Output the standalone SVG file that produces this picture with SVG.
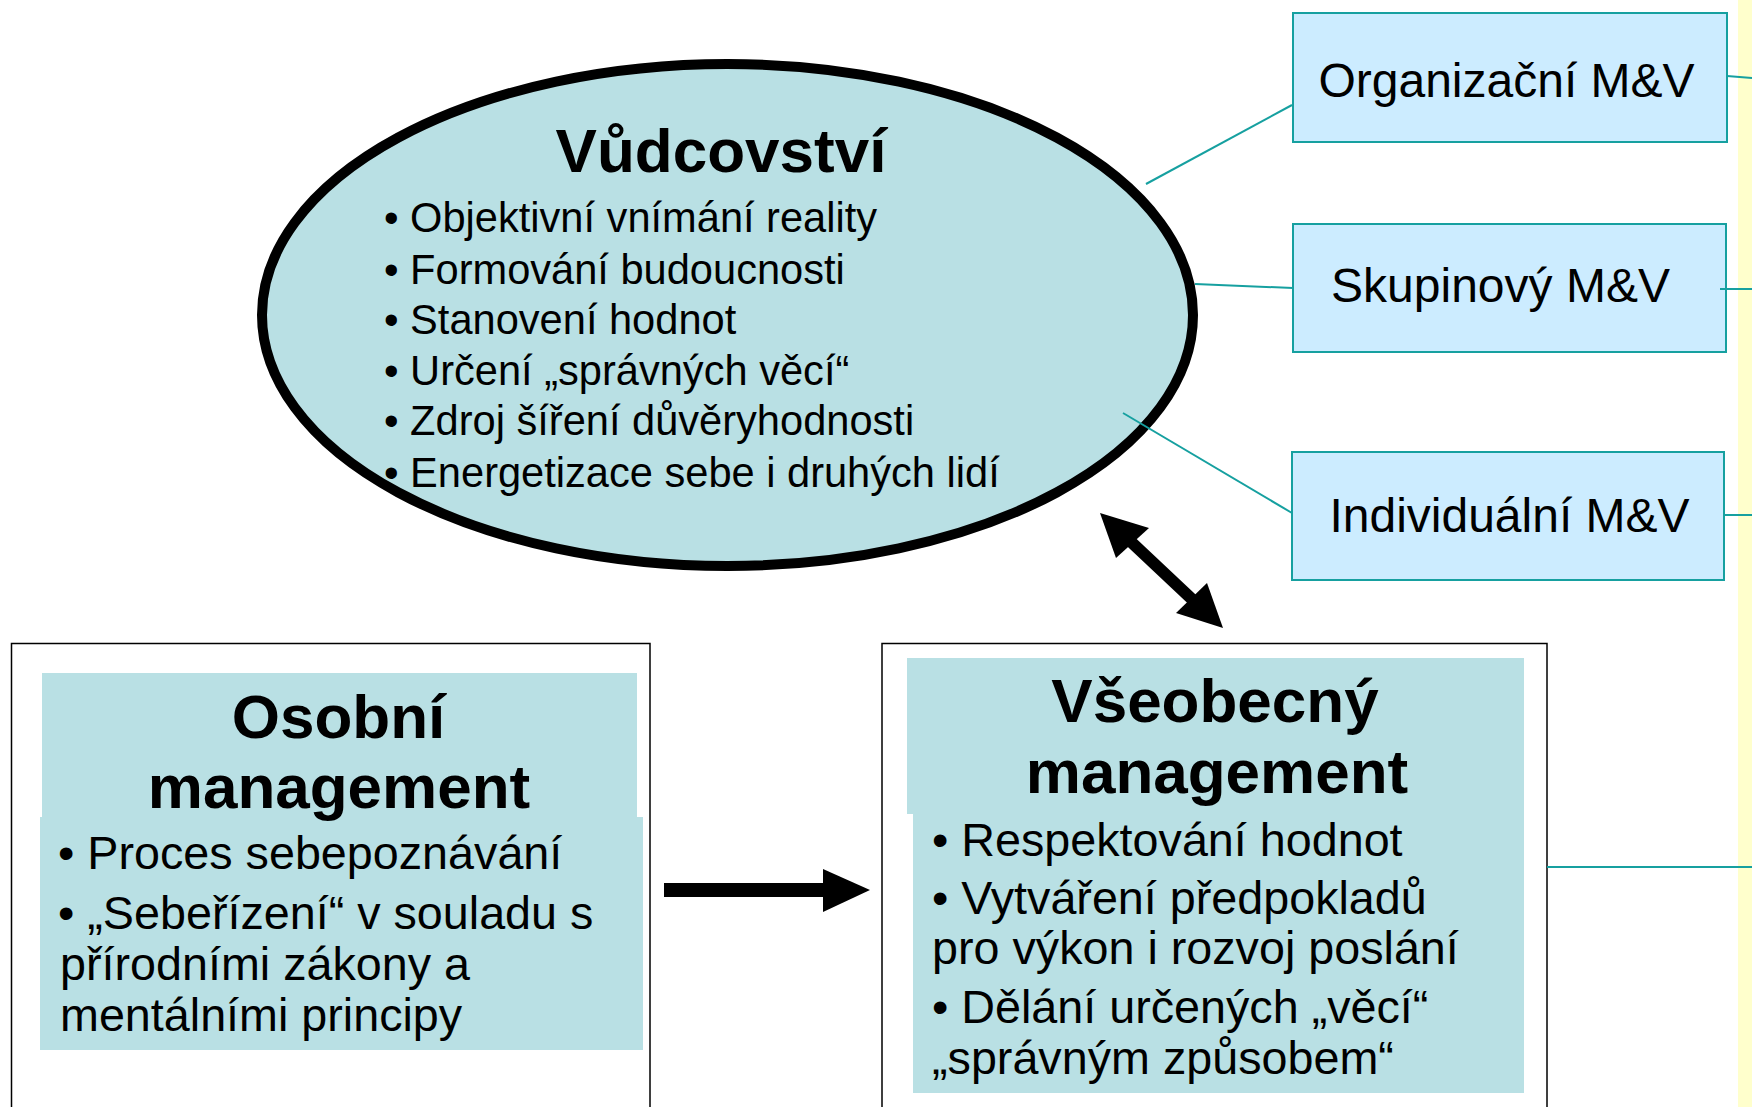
<svg xmlns="http://www.w3.org/2000/svg" width="1752" height="1107" viewBox="0 0 1752 1107">
<style>
text{font-family:"Liberation Sans",Arial,sans-serif;fill:#000}
.title{font-weight:bold;font-size:62px;text-anchor:middle}
.b41{font-size:41.6px}
.b46{font-size:46.7px}
.mv{font-size:48px;text-anchor:middle}
.teal{fill:#B9E0E4}
.mvbox{fill:#CCECFF;stroke:#16A0A0;stroke-width:2}
.outer{fill:#FFFFFF;stroke:#000;stroke-width:1.5}
.conn{stroke:#16A0A0;stroke-width:2;fill:none}
.arrow{fill:#000}
</style>
<rect x="0" y="0" width="1752" height="1107" fill="#FFFFFF"/>
<rect id="strip" x="1738" y="0" width="14" height="1107" fill="#FFFFCC"/>

<g id="vudcovstvi">
<ellipse cx="727.5" cy="315" rx="465.5" ry="251" class="teal" stroke="#000" stroke-width="10"/>
<text class="title" x="721" y="172">Vůdcovství</text>
<text class="b41" x="384" y="232">• Objektivní vnímání reality</text>
<text class="b41" x="384" y="284">• Formování budoucnosti</text>
<text class="b41" x="384" y="334">• Stanovení hodnot</text>
<text class="b41" x="384" y="385">• Určení „správných věcí“</text>
<text class="b41" x="384" y="435">• Zdroj šíření důvěryhodnosti</text>
<text class="b41" x="384" y="487">• Energetizace sebe i druhých lidí</text>
</g>

<g id="organizacni">
<rect class="mvbox" x="1293" y="13" width="434" height="129"/>
<text class="mv" x="1506.5" y="97">Organizační M&amp;V</text>
</g>
<g id="skupinovy">
<rect class="mvbox" x="1293" y="224" width="433" height="128"/>
<text class="mv" x="1500.5" y="302">Skupinový M&amp;V</text>
</g>
<g id="individualni">
<rect class="mvbox" x="1292" y="452" width="432" height="128"/>
<text class="mv" x="1509.5" y="532">Individuální M&amp;V</text>
</g>

<g id="osobni">
<rect class="outer" x="11.5" y="643.5" width="638.5" height="500"/>
<rect class="teal" x="42" y="673" width="595" height="144"/>
<rect class="teal" x="40" y="817" width="603" height="233"/>
<text class="title" x="338.5" y="738">Osobní</text>
<text class="title" x="339" y="808">management</text>
<text class="b46" x="58" y="869">• Proces sebepoznávání</text>
<text class="b46" x="58" y="929">• „Sebeřízení“ v souladu s</text>
<text class="b46" x="60" y="980">přírodními zákony a</text>
<text class="b46" x="60" y="1031">mentálními principy</text>
</g>

<g id="vseobecny">
<rect class="outer" x="882" y="643.5" width="665" height="500"/>
<rect class="teal" x="907" y="658" width="617" height="156"/>
<rect class="teal" x="913" y="814" width="611" height="279"/>
<text class="title" x="1215" y="722">Všeobecný</text>
<text class="title" x="1217" y="793">management</text>
<text class="b46" x="932" y="856">• Respektování hodnot</text>
<text class="b46" x="932" y="914">• Vytváření předpokladů</text>
<text class="b46" x="932" y="964">pro výkon i rozvoj poslání</text>
<text class="b46" x="932" y="1023">• Dělání určených „věcí“</text>
<text class="b46" x="932" y="1074">„správným způsobem“</text>
</g>

<g id="connectors">
<line class="conn" x1="1146" y1="184" x2="1292" y2="105"/>
<line class="conn" x1="1195" y1="284" x2="1293" y2="288"/>
<line class="conn" x1="1123" y1="413" x2="1292" y2="513"/>
<line class="conn" x1="1727" y1="76" x2="1752" y2="78"/>
<line class="conn" x1="1720" y1="289" x2="1752" y2="289"/>
<line class="conn" x1="1724" y1="515" x2="1752" y2="515"/>
<line class="conn" x1="1547" y1="867" x2="1752" y2="867"/>
<rect class="arrow" x="664" y="883" width="161" height="14"/>
<polygon class="arrow" points="823,869 870,890 823,912"/>
<line x1="1128" y1="539" x2="1196" y2="603" stroke="#000" stroke-width="12"/>
<polygon class="arrow" points="1100,513 1149,528 1116,558"/>
<polygon class="arrow" points="1223,628 1207,583 1176,613"/>
</g>
</svg>
